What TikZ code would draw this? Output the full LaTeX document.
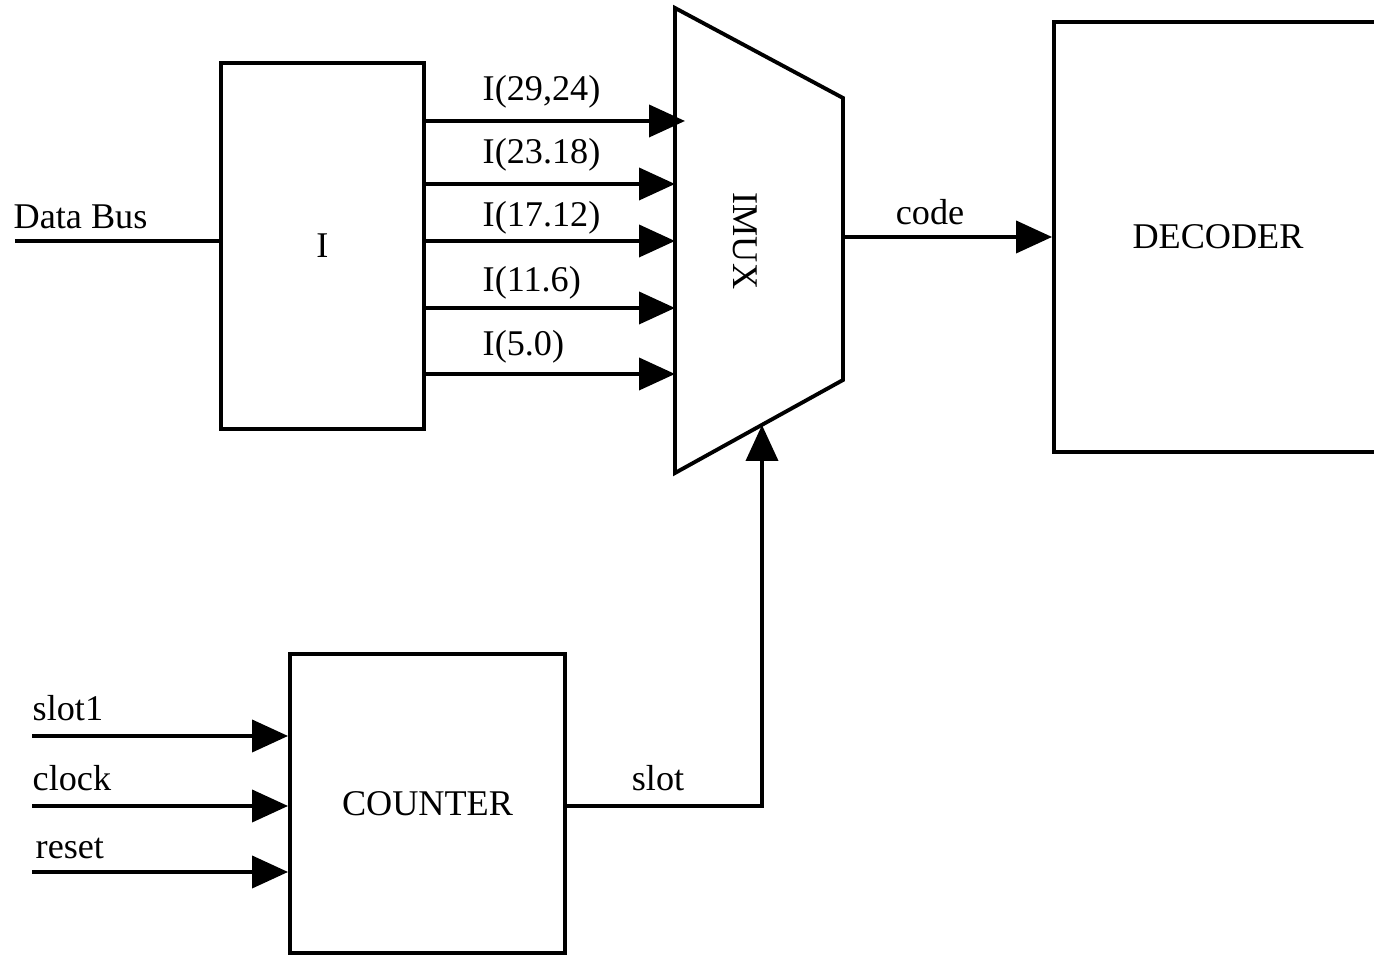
\documentclass[tikz,border=0pt]{standalone}
\usepackage{fontspec}
\setmainfont{Liberation Serif}
\usepackage{tikz}
\usetikzlibrary{arrows.meta}
\tikzset{%
  blk/.style={draw, line width=1.1pt, inner sep=0pt, text centered},%
  wire/.style={line width=1.1pt},%
  sig/.style={wire, -{Triangle[length=3.6mm,width=3.2mm]}},%
  lbl/.style={font=\fontsize{10.3}{12}\selectfont, inner sep=0pt},%
}

\begin{document}
\begin{tikzpicture}[font=\fontsize{10.3}{12}\selectfont]%
\useasboundingbox (0,0) rectangle (13.74,9.56);%
\node[blk, minimum width=2.03cm, minimum height=3.66cm] (I) at (3.225,7.10) {I};%
\node[blk, minimum width=3.28cm, minimum height=4.30cm] (DEC) at (12.18,7.19) {DECODER};%
\node[blk, minimum width=2.75cm, minimum height=2.99cm] (CNT) at (4.275,1.525) {COUNTER};%
\coordinate (mux-tl) at (6.75,9.48);%
\coordinate (mux-tr) at (8.43,8.58);%
\coordinate (mux-br) at (8.43,5.76);%
\coordinate (mux-bl) at (6.75,4.83);%
\draw[wire, line join=miter] (mux-tl) -- (mux-tr) -- (mux-br) -- (mux-bl) -- cycle;%
\node[lbl, rotate=-90] (imux) at (7.45,7.15) {IMUX};%
\coordinate (dbus) at (0.15,7.15);%
\draw[wire] (dbus) -- (dbus -| I.west);%
\node[lbl, anchor=west] (dbuslbl) at (0.13,7.39) {Data Bus};%
\coordinate (in1) at (6.85,8.35);%
\coordinate (in2) at (6.75,7.72);%
\coordinate (in3) at (6.75,7.15);%
\coordinate (in4) at (6.75,6.48);%
\coordinate (in5) at (6.75,5.82);%
\draw[sig] (I.east |- in1) -- (in1);%
\draw[sig] (I.east |- in2) -- (in2);%
\draw[sig] (I.east |- in3) -- (in3);%
\draw[sig] (I.east |- in4) -- (in4);%
\draw[sig] (I.east |- in5) -- (in5);%
\node[lbl, anchor=west] (l1) at (4.82,8.64) {I(29,24)};%
\node[lbl, anchor=west] (l2) at (4.82,8.01) {I(23.18)};%
\node[lbl, anchor=west] (l3) at (4.82,7.38) {I(17.12)};%
\node[lbl, anchor=west] (l4) at (4.82,6.73) {I(11.6)};%
\node[lbl, anchor=west] (l5) at (4.82,6.09) {I(5.0)};%
\coordinate (code) at (8.43,7.19);%
\draw[sig] (code) -- (code -| DEC.west);%
\node[lbl] (codelbl) at (9.30,7.44) {code};%
\coordinate (ck1) at (0.32,2.20);%
\coordinate (ck2) at (0.32,1.50);%
\coordinate (ck3) at (0.32,0.84);%
\draw[sig] (ck1) -- (ck1 -| CNT.west);%
\draw[sig] (ck2) -- (ck2 -| CNT.west);%
\draw[sig] (ck3) -- (ck3 -| CNT.west);%
\node[lbl, anchor=west] (slot1lbl) at (0.32,2.48) {slot1};%
\node[lbl, anchor=west] (clocklbl) at (0.32,1.78) {clock};%
\node[lbl, anchor=west] (resetlbl) at (0.35,1.08) {reset};%
\coordinate (sel) at (7.62,5.31);%
\draw[sig] (CNT.east |- ck2) -| (sel);%
\node[lbl] (slotlbl) at (6.58,1.78) {slot};%
\end{tikzpicture}
\end{document}
